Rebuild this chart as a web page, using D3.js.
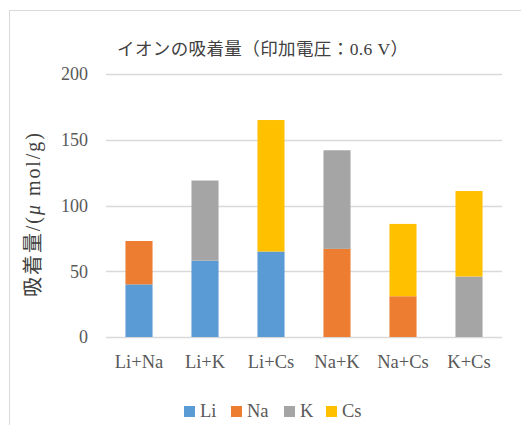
<!DOCTYPE html>
<html>
<head>
<meta charset="utf-8">
<script src="https://cdn.jsdelivr.net/npm/d3@7"></script>
<style>
  html, body { margin: 0; padding: 0; background: #fff; }
  svg { display: block; }
</style>
</head>
<body>
<svg id="chart" width="521" height="425"></svg>
<script>
// Ion pairs on the x axis
const categories = ["Li+Na", "Li+K", "Li+Cs", "Na+K", "Na+Cs", "K+Cs"];
// Adsorbed amount of each ion (μmol/g) per pair
const seriesNames = ["Li", "Na", "K", "Cs"];
const liValues = [40, 58, 65, 0, 0, 0];
const naValues = [33, 0, 0, 67, 31, 0];
const kValues  = [0, 61, 0, 75, 0, 46];
const csValues = [0, 0, 100, 0, 55, 65];
const yTicks = [0, 50, 100, 150, 200];

const colors = ["#5B9BD5", "#ED7D31", "#A5A5A5", "#FFC000"];
const fontStack = "'Liberation Serif', 'Noto Sans CJK JP', serif";

const rows = categories.map((c, i) => ({
  cat: c, Li: liValues[i], Na: naValues[i], K: kValues[i], Cs: csValues[i]
}));

const svg = d3.select("#chart");
const margin = { left: 106, right: 19, top: 74, bottom: 88 };
const W = 521, H = 425;

// chart frame
svg.append("rect")
  .attr("x", 9.5).attr("y", 10.5)
  .attr("width", W + 20).attr("height", H + 20)
  .attr("fill", "#fff").attr("stroke", "#d9d9d9").attr("stroke-width", 1);

const x = d3.scaleBand().domain(categories)
  .range([margin.left, W - margin.right]).paddingInner(0.59).paddingOuter(0.295);
const y = d3.scaleLinear().domain([0, 200]).range([H - margin.bottom, margin.top]);

// gridlines
svg.append("g").selectAll("line").data(yTicks).join("line")
  .attr("x1", margin.left).attr("x2", W - margin.right)
  .attr("y1", d => Math.round(y(d)) + 0.5).attr("y2", d => Math.round(y(d)) + 0.5)
  .attr("stroke", "#d9d9d9").attr("stroke-width", 1.3);

// y tick labels
svg.append("g").selectAll("text").data(yTicks).join("text")
  .attr("x", 88).attr("y", d => y(d))
  .attr("dy", "0.35em").attr("text-anchor", "end")
  .attr("font-family", fontStack).attr("font-size", 18).attr("fill", "#595959")
  .text(d => d);

// stacked bars
const stack = d3.stack().keys(seriesNames)(rows);
svg.append("g").selectAll("g").data(stack).join("g")
  .attr("fill", (d, i) => colors[i])
  .selectAll("rect").data(d => d).join("rect")
  .attr("x", d => x(d.data.cat))
  .attr("width", x.bandwidth())
  .attr("y", d => y(d[1]))
  .attr("height", d => y(d[0]) - y(d[1]));

// category labels
svg.append("g").selectAll("text").data(categories).join("text")
  .attr("x", d => x(d) + x.bandwidth() / 2).attr("y", 368)
  .attr("text-anchor", "middle")
  .attr("font-family", fontStack).attr("font-size", 18.5).attr("fill", "#595959")
  .text(d => d);

// title
svg.append("text")
  .attr("x", 117).attr("y", 55)
  .attr("textLength", 291).attr("lengthAdjust", "spacing")
  .attr("font-family", fontStack).attr("font-size", 17.5).attr("fill", "#404040")
  .text("イオンの吸着量（印加電圧：0.6 V）");

// y axis title
const yt = svg.append("text")
  .attr("transform", "translate(40,297) rotate(-90)")
  .attr("textLength", 164).attr("lengthAdjust", "spacing")
  .attr("font-family", fontStack).attr("font-size", 20).attr("fill", "#404040");
yt.append("tspan").text("吸着量/(");
yt.append("tspan").attr("font-style", "italic").text("μ");
yt.append("tspan").text(" mol/g)");

// legend
const legendX = [184, 231, 284, 326];
const lg = svg.append("g").selectAll("g").data(seriesNames).join("g")
  .attr("transform", (d, i) => `translate(${legendX[i]},406)`);
lg.append("rect").attr("width", 11).attr("height", 11)
  .attr("fill", (d, i) => colors[i]);
lg.append("text").attr("x", 16).attr("y", 10.5)
  .attr("font-family", fontStack).attr("font-size", 18.5).attr("fill", "#595959")
  .text(d => d);
</script>
</body>
</html>
